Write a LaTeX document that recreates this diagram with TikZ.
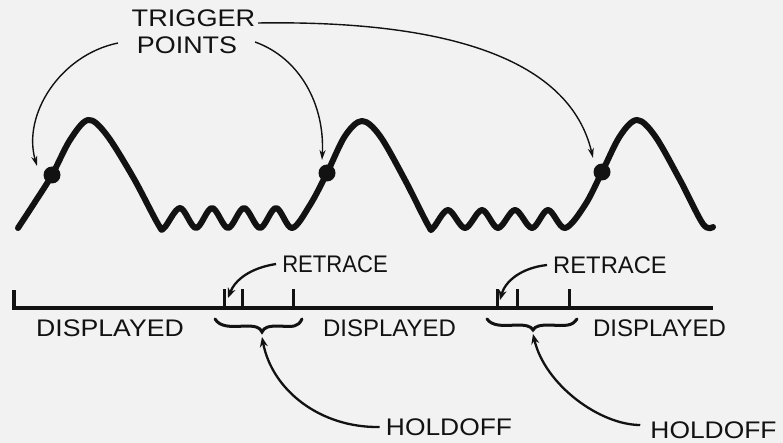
\documentclass[tikz,border=0pt]{standalone}
\usepackage{fontspec}
\setmainfont{Liberation Sans}
\usetikzlibrary{arrows.meta}
\newcommand{\stretchtxt}[2]{\scalebox{#1}[1]{#2}}
\definecolor{paper}{RGB}{242,242,242}
\definecolor{ink}{RGB}{18,18,18}
\begin{document}
\begin{tikzpicture}[x=1pt,y=-1pt,
  lbl/.style={inner sep=0pt, text=ink, font=\fontsize{24}{24}\selectfont},
  wave/.style={line width=6pt, draw=ink, line cap=round, line join=round},
  dot/.style={circle, fill=ink, minimum size=17pt, inner sep=0pt},
  ptr/.style={line width=1.4pt, draw=ink, -{Stealth[length=10pt,width=6pt]}},
  ptrb/.style={line width=2.3pt, draw=ink, -{Stealth[length=10pt,width=8pt]}},
  axis/.style={line width=3.5pt, draw=ink, line join=miter},
  tickm/.style={line width=3pt, draw=ink},
  brc/.style={line width=3pt, draw=ink, line cap=round}]
\useasboundingbox (0,0) rectangle (783,443);
\fill[paper] (0,0) rectangle (783,443);

% waveform
\draw[wave] plot[smooth, tension=0.55] coordinates {
  (18,228) (35,202) (52,175) (70,140) (88,120) (106,134) (133,177) (158,224)
  (164,228) (180,208) (196,228) (212,208) (228,228) (244,208) (260,228) (276,208) (292,228)
  (310,205) (327,173) (345,136) (362,121) (380,136) (405,180) (428,225)
  (433,228) (448,210) (465,228) (482,210) (498,228) (515,210) (532,228) (548,210) (565,228)
  (585,205) (602,172) (620,136) (637,120) (655,136) (680,180) (703,224) (713,227)};

% trigger points
\node[dot] (tp1) at (52,175) {};
\node[dot] (tp2) at (327,173) {};
\node[dot] (tp3) at (602,172) {};

% labels
\node[lbl] (trigger) at (193.5,18.5) {\stretchtxt{1.13}{TRIGGER}};
\node[lbl] (points) at (187,45) {\stretchtxt{1.12}{POINTS}};
\node[lbl] (ret1) at (335,264) {\stretchtxt{0.92}{RETRACE}};
\node[lbl] (ret2) at (610,265) {\stretchtxt{0.99}{RETRACE}};
\node[lbl] (disp1) at (110,328) {\stretchtxt{1.11}{DISPLAYED}};
\node[lbl] (disp2) at (389.5,328) {\stretchtxt{1.0}{DISPLAYED}};
\node[lbl] (disp3) at (659.5,328) {\stretchtxt{1.0}{DISPLAYED}};
\node[lbl] (hold1) at (449,427) {\stretchtxt{1.1}{HOLDOFF}};
\node[lbl] (hold2) at (713.5,430) {\stretchtxt{1.1}{HOLDOFF}};

% trigger arrows
\coordinate (a1s) at (118,43);
\coordinate (a1e) at (37,166);
\coordinate (a2s) at (255,42);
\coordinate (a2e) at (322,160);
\coordinate (a3s) at (258,23);
\coordinate (a3e) at (593,158);
\draw[ptr] (a1s) .. controls (60,55) and (22,115) .. (a1e);
\draw[ptr] (a2s) .. controls (300,58) and (325,105) .. (a2e);
\draw[ptr] (a3s) .. controls (450,20) and (570,60) .. (a3e);

% timeline
\coordinate (tl0) at (14,290);
\coordinate (tl1) at (14,308);
\coordinate (tl2) at (713,308);
\draw[axis] (tl0) -- (tl1) -- (tl2);
\foreach \x in {224,242,293,497,517,569}
  \draw[tickm] (\x,289) -- (\x,308);

% retrace arrows
\coordinate (r1e) at (228,298);
\coordinate (r2e) at (500,300);
\draw[ptrb] ([xshift=-6pt]ret1.west) .. controls (250,268) and (235,280) .. (r1e);
\draw[ptrb] ([xshift=-6pt]ret2.west) .. controls (520,268) and (505,282) .. (r2e);

% braces
\draw[brc] (215,319) .. controls (220,327) and (230,327) .. (245,326)
  .. controls (255,326) and (260,327) .. (262,332)
  .. controls (264,327) and (269,326) .. (279,326)
  .. controls (294,327) and (298,327) .. (302,319);
\draw[brc] (487,319) .. controls (492,326) and (502,326) .. (516,325)
  .. controls (526,325) and (531,326) .. (533,330)
  .. controls (535,326) and (540,325) .. (550,325)
  .. controls (567,326) and (572,326) .. (577,319);

% holdoff arrows
\coordinate (h1e) at (262,337);
\coordinate (h2e) at (533,334);
\draw[ptrb] ([xshift=-6pt]hold1.west) .. controls (320,428) and (272,390) .. (h1e);
\draw[ptrb] ([xshift=-10pt,yshift=5pt]hold2.west) .. controls (600,425) and (545,385) .. (h2e);
\end{tikzpicture}
\end{document}
